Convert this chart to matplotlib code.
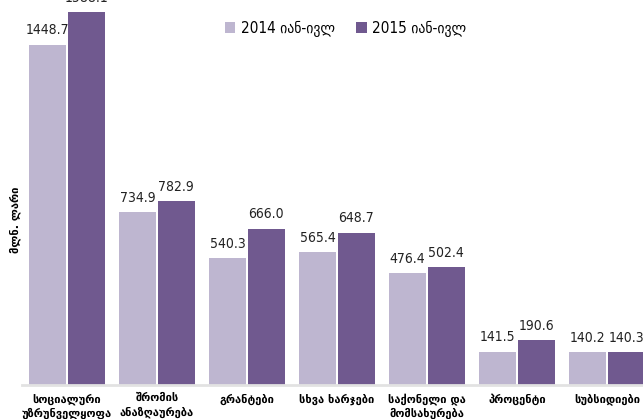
import matplotlib
matplotlib.use("Agg")
import matplotlib.pyplot as plt
import numpy as np

# data
categories = ["სოციალური\nუზრუნველყოფა", "შრომის\nანაზღაურება", "გრანტები",
              "სხვა ხარჯები", "საქონელი და\nმომსახურება", "პროცენტი", "სუბსიდიები"]
values_2014 = [1448.7, 734.9, 540.3, 565.4, 476.4, 141.5, 140.2]
values_2015 = [1588.1, 782.9, 666.0, 648.7, 502.4, 190.6, 140.3]
series_names = ["2014 იან-ივლ", "2015 იან-ივლ"]

light = "#beb6d0"
dark = "#70598f"

plt.rcParams['font.family'] = ['DejaVu Sans']

fig = plt.figure(figsize=(6.43, 4.19), dpi=100)
ax = fig.add_axes([22 / 643, 34 / 419, 1 - 22 / 643, 385 / 419])

x = np.arange(len(categories))
w = 0.41
off = 0.215
b1 = ax.bar(x - off, values_2014, w, color=light, label=series_names[0])
b2 = ax.bar(x + off, values_2015, w, color=dark, label=series_names[1])

# value labels above each bar
for bars, vals in [(b1, values_2014), (b2, values_2015)]:
    for b, v in zip(bars, vals):
        ax.text(b.get_x() + b.get_width() / 2, v + 32, f"{v:.1f}",
                ha="center", va="bottom", fontsize=10, color="#222222",
                fontstretch="condensed")

ax.set_xlim(-0.5, 6.4)
ax.set_ylim(0, 1640)

for s in ["top", "right", "left"]:
    ax.spines[s].set_visible(False)
ax.spines["bottom"].set_color("#e2e2e2")
ax.spines["bottom"].set_linewidth(2)
ax.set_yticks([])
ax.set_xticks(x)
ax.set_xticklabels(categories, fontsize=8, fontweight="bold", linespacing=1.3)
ax.tick_params(axis="x", length=0, pad=6)

fig.text(15 / 643, 1 - 220 / 419, "მლნ. ლარი", rotation=90, ha="center", va="center",
         fontsize=8, fontweight="bold")

ax.legend(loc="upper left", bbox_to_anchor=(211 / 643, 1 - 7 / 419),
          bbox_transform=fig.transFigure, ncol=2, frameon=False,
          prop={'size': 11, 'stretch': 'condensed'},
          handlelength=0.7, handleheight=0.7, handletextpad=0.35, columnspacing=1.4)

fig.savefig("out.png", dpi=100)
